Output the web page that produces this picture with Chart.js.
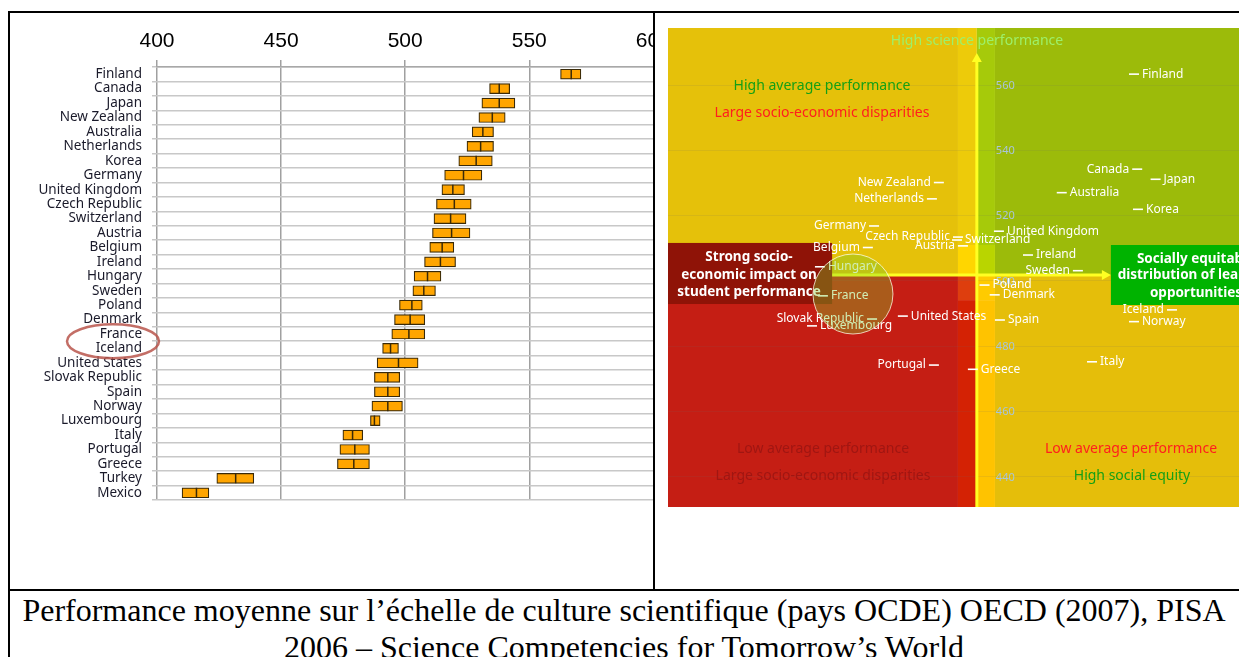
<!DOCTYPE html>
<html>
<head>
<meta charset="utf-8">
<script src="https://cdn.jsdelivr.net/npm/chart.js@4.4.1/dist/chart.umd.min.js"></script>
<style>
  html, body { margin: 0; padding: 0; background: #fff; }
  body { width: 1239px; height: 657px; overflow: hidden; position: relative; }
  .rule { position: absolute; background: #000; }
  #leftCell { position: absolute; left: 10px; top: 12px; width: 643px; height: 577px; overflow: hidden; }
  #leftCell canvas { position: absolute; left: 0; top: 0; }
  #rightCell { position: absolute; left: 668px; top: 28px; width: 571px; height: 479px; }
  #caption { position: absolute; left: 9px; top: 592px; width: 1230px; text-align: center;
             font-family: "Liberation Serif", serif; font-size: 32px; line-height: 37px; color: #000; }
</style>
</head>
<body>
<div class="rule" style="left:9px; top:11px; width:1230px; height:2px;"></div>
<div class="rule" style="left:8px; top:11px; width:2px; height:646px;"></div>
<div class="rule" style="left:653px; top:11px; width:2px; height:579px;"></div>
<div class="rule" style="left:8px; top:589px; width:1231px; height:2px;"></div>

<div id="leftCell"><canvas id="bars" width="700" height="491"></canvas></div>
<div id="rightCell"><canvas id="quadrant" width="571" height="479"></canvas></div>

<div id="caption">Performance moyenne sur l’échelle de culture scientifique (pays OCDE) OECD (2007), PISA<br>2006 – Science Competencies for Tomorrow’s World</div>

<script>
// ---- gauche : score moyen en sciences et intervalle de confiance
const countries = ['Finland', 'Canada', 'Japan', 'New Zealand', 'Australia', 'Netherlands', 'Korea',
  'Germany', 'United Kingdom', 'Czech Republic', 'Switzerland', 'Austria', 'Belgium', 'Ireland',
  'Hungary', 'Sweden', 'Poland', 'Denmark', 'France', 'Iceland', 'United States', 'Slovak Republic',
  'Spain', 'Norway', 'Luxembourg', 'Italy', 'Portugal', 'Greece', 'Turkey', 'Mexico'];
const ciLow = [562.6, 534.0, 530.9, 529.7, 527.0, 524.9, 521.6, 515.9, 514.8, 512.6, 511.6, 511.0,
  509.9, 507.8, 503.6, 503.1, 497.7, 495.7, 494.6, 490.9, 488.7, 487.6, 487.6, 486.6, 486.0,
  474.9, 473.7, 472.7, 424.1, 410.1];
const meanScore = [566.9, 537.9, 537.9, 535.1, 531.3, 530.4, 528.6, 523.5, 519.2, 519.8, 518.3, 518.7,
  514.9, 514.2, 509.0, 507.5, 502.7, 502.0, 501.5, 494.1, 497.3, 493.0, 493.0, 493.0, 487.6,
  478.8, 479.7, 479.3, 431.7, 415.9];
const ciHigh = [570.8, 542.1, 544.2, 540.3, 535.6, 535.6, 535.1, 530.9, 523.9, 526.6, 524.5, 526.1,
  519.6, 520.3, 514.4, 512.2, 506.9, 507.9, 507.9, 497.3, 505.2, 497.8, 497.8, 498.9, 489.9,
  482.9, 485.6, 485.6, 439.0, 420.9];
const scoreTicks = [400, 450, 500, 550, 600];
const circled = ['France', 'Iceland'];

// ---- droite : équité (variance expliquée, %) vs performance
const equityCountries = ['Finland', 'Canada', 'Japan', 'Australia', 'Korea', 'New Zealand', 'Netherlands',
  'Germany', 'United Kingdom', 'Czech Republic', 'Switzerland', 'Austria', 'Belgium', 'Ireland',
  'Hungary', 'Sweden', 'Poland', 'Denmark', 'France', 'Iceland', 'United States', 'Slovak Republic',
  'Spain', 'Norway', 'Luxembourg', 'Italy', 'Portugal', 'Greece'];
const varianceExplained = [8.23, 8.1, 7.36, 11.14, 8.07, 16.09, 16.37,
  18.70, 13.67, 15.32, 15.36, 15.12, 18.95, 12.50,
  20.88, 10.49, 14.25, 13.84, 20.76, 6.70, 17.54, 18.78,
  13.63, 8.23, 21.20, 9.92, 16.29, 14.72];
const scienceScore = [563.2, 534.1, 531.0, 526.9, 521.8, 530.0, 525.0,
  516.7, 515.1, 513.3, 512.4, 510.6, 510.1, 507.8,
  504.2, 503.0, 498.6, 495.6, 495.3, 491.0, 489.1, 488.2,
  487.9, 487.4, 486.1, 475.1, 474.1, 472.8];
const labelSide = ['R', 'L', 'R', 'R', 'R', 'L', 'L',
  'L', 'R', 'L', 'R', 'L', 'L', 'R',
  'R', 'L', 'R', 'R', 'R', 'L', 'R', 'L',
  'R', 'R', 'R', 'R', 'L', 'R'];
const oecdVariance = 14.56;
const oecdScore = 501.7;

// ellipse rouge autour de France / Iceland
const ellipsePlugin = {
  id: 'ellipse',
  afterDraw(chart) {
    const ctx = chart.ctx, y = chart.scales.y;
    const cy = (y.getPixelForValue(countries.indexOf(circled[0])) + y.getPixelForValue(countries.indexOf(circled[1]))) / 2;
    ctx.save();
    ctx.strokeStyle = 'rgba(185,85,75,0.85)';
    ctx.lineWidth = 2.5;
    ctx.beginPath();
    ctx.ellipse(chart.chartArea.left - 44, cy, 46, 17, 0, 0, Math.PI * 2);
    ctx.stroke();
    ctx.restore();
  }
};

new Chart(document.getElementById('bars'), {
  type: 'bar',
  data: {
    labels: countries,
    datasets: [{
      type: 'bar',
      data: countries.map((c, i) => [ciLow[i], ciHigh[i]]),
      backgroundColor: '#FFA500',
      borderColor: '#3a2a08',
      borderWidth: 1.2,
      borderSkipped: false,
      barThickness: 10,
      order: 2
    }, {
      type: 'line',
      data: countries.map((c, i) => ({ x: meanScore[i], y: c })),
      showLine: false,
      pointStyle: 'line',
      pointRadius: 5,
      pointRotation: 90,
      pointBorderColor: '#3a2a08',
      pointBorderWidth: 1.5,
      order: 1
    }]
  },
  options: {
    indexAxis: 'y',
    responsive: false,
    animation: false,
    layout: { padding: { left: 0, right: 7, top: 0, bottom: 3 }, autoPadding: false },
    plugins: { legend: { display: false }, tooltip: { enabled: false } },
    scales: {
      x: {
        position: 'top',
        min: 400, max: 620,
        afterBuildTicks: s => { s.ticks = scoreTicks.map(v => ({ value: v })); },
        ticks: { padding: 6, color: '#000', font: { family: 'Liberation Sans', size: 21 } },
        grid: { color: '#a0a0a0', lineWidth: 1.5, tickLength: 7 },
        border: { color: '#a8a8a8', width: 1.5 },
        afterFit: s => { s.height = 55; }
      },
      y: {
        ticks: { padding: 10, color: '#1a1a2a', autoSkip: false, font: { family: 'Noto Sans', size: 13.5 } },
        grid: { color: '#c8c8c8', lineWidth: 1.5, tickLength: 5 },
        border: { display: false },
        afterFit: s => { s.width = 147; s.paddingTop = 0; s.paddingBottom = 0; }
      }
    }
  },
  plugins: [ellipsePlugin]
});

// fonds de quadrants (unités des axes)
const zones = [
  { x: [27, 15.32], y: [oecdScore, 577.4], color: '#E5C10A' },
  { x: [13.83, 4], y: [oecdScore, 577.4], color: '#9CBB0A' },
  { x: [27, 15.32], y: [430.6, oecdScore], color: '#C51E14' },
  { x: [13.83, 4], y: [430.6, oecdScore], color: '#E5BE0A' },
  { x: [15.32, oecdVariance], y: [510.87, 577.4], color: '#EDCB0A' },
  { x: [15.32, oecdVariance], y: [oecdScore, 510.87], color: '#FFD600' },
  { x: [oecdVariance, 13.83], y: [510.87, 577.4], color: '#A6CA0A' },
  { x: [oecdVariance, 13.83], y: [oecdScore, 510.87], color: '#B9D500' },
  { x: [15.32, oecdVariance], y: [494.0, oecdScore], color: '#DE3E0E' },
  { x: [15.32, oecdVariance], y: [430.6, 494.0], color: '#D42204' },
  { x: [oecdVariance, 13.83], y: [494.0, oecdScore], color: '#FFCB00' },
  { x: [oecdVariance, 13.83], y: [430.6, 494.0], color: '#FFC300' }
];
const boxes = [
  { x: [27, 20.39], y: [492.8, 511.5], color: '#8F1307' },
  { x: [9.16, 4], y: [492.5, 510.87], color: '#00B300' }
];
const notes = [
  { text: 'High science performance', x: 309, y: 13, color: '#9DF06A' },
  { text: 'High average performance', x: 154, y: 58, color: '#14A014' },
  { text: 'Large socio-economic disparities', x: 154, y: 85, color: '#FF1E1E' },
  { text: 'Low average performance', x: 155, y: 421, color: '#A01612' },
  { text: 'Large socio-economic disparities', x: 155, y: 448, color: '#A01612' },
  { text: 'Low average performance', x: 463, y: 421, color: '#FF1E1E' },
  { text: 'High social equity', x: 464, y: 448, color: '#14A014' },
  { text: 'Strong socio-', x: 81, y: 229, color: '#fff', bold: true },
  { text: 'economic impact on', x: 81, y: 247, color: '#fff', bold: true },
  { text: 'student performance', x: 81, y: 264, color: '#fff', bold: true },
  { text: 'Socially equitable', x: 528, y: 231, color: '#fff', bold: true },
  { text: 'distribution of learning', x: 528, y: 247, color: '#fff', bold: true },
  { text: 'opportunities', x: 528, y: 265, color: '#fff', bold: true }
];

function rect(ctx, x, y, z) {
  const x0 = x.getPixelForValue(z.x[0]), x1 = x.getPixelForValue(z.x[1]);
  const y0 = y.getPixelForValue(z.y[0]), y1 = y.getPixelForValue(z.y[1]);
  ctx.fillStyle = z.color;
  ctx.fillRect(Math.min(x0, x1), Math.min(y0, y1), Math.abs(x1 - x0), Math.abs(y1 - y0));
}

const quadrantPlugin = {
  id: 'quadrantDecor',
  beforeDraw(chart) {
    const { ctx, scales: { x, y }, chartArea: a } = chart;
    ctx.save();
    zones.forEach(z => rect(ctx, x, y, z));
    ctx.strokeStyle = 'rgba(110,110,110,0.12)';
    ctx.lineWidth = 1;
    y.ticks.filter(t => t.value % 20 === 0).forEach(t => {
      const py = Math.round(y.getPixelForValue(t.value)) + 0.5;
      ctx.beginPath(); ctx.moveTo(a.left, py); ctx.lineTo(a.right, py); ctx.stroke();
    });
    ctx.restore();
  },
  beforeDatasetsDraw(chart) {
    const { ctx, scales: { x, y }, chartArea: a } = chart;
    const ax = x.getPixelForValue(oecdVariance), ay = y.getPixelForValue(oecdScore);
    const tipX = x.getPixelForValue(9.16), tipY = y.getPixelForValue(569.7);
    ctx.save();
    ctx.strokeStyle = '#FFFF22'; ctx.fillStyle = '#FFFF22'; ctx.lineWidth = 3;
    ctx.beginPath(); ctx.moveTo(a.left, ay); ctx.lineTo(tipX - 6, ay); ctx.stroke();
    ctx.beginPath(); ctx.moveTo(tipX, ay); ctx.lineTo(tipX - 9, ay - 5); ctx.lineTo(tipX - 9, ay + 5); ctx.fill();
    ctx.beginPath(); ctx.moveTo(ax, a.bottom); ctx.lineTo(ax, tipY + 6); ctx.stroke();
    ctx.beginPath(); ctx.moveTo(ax, tipY); ctx.lineTo(ax - 5, tipY + 9); ctx.lineTo(ax + 5, tipY + 9); ctx.fill();
    boxes.forEach(b => rect(ctx, x, y, b));
    ctx.textAlign = 'center'; ctx.textBaseline = 'middle';
    notes.forEach(n => {
      ctx.font = (n.bold ? 'bold 13.5px' : '14px') + ' "Noto Sans"';
      ctx.fillStyle = n.color;
      ctx.fillText(n.text, a.left + n.x, a.top + n.y);
    });
    ctx.font = '11px "Noto Sans"'; ctx.fillStyle = '#A9C6DA'; ctx.textAlign = 'left';
    y.ticks.filter(t => t.value % 20 === 0).forEach(t => {
      ctx.fillText(String(t.value), ax + 19, y.getPixelForValue(t.value) + 1);
    });
    ctx.restore();
  },
  afterDatasetsDraw(chart) {
    const { ctx, scales: { x, y } } = chart;
    const pts = chart.getDatasetMeta(0).data;
    ctx.save();
    ctx.font = '12px "Noto Sans"'; ctx.fillStyle = '#fff'; ctx.textBaseline = 'middle';
    pts.forEach((p, i) => {
      const right = labelSide[i] === 'R';
      ctx.textAlign = right ? 'left' : 'right';
      ctx.fillText(equityCountries[i], p.x + (right ? 8 : -8), p.y);
    });
    // cercle de mise en évidence Hungary / France
    ctx.beginPath();
    ctx.arc(x.getPixelForValue(19.55), y.getPixelForValue(495.86), 40, 0, Math.PI * 2);
    ctx.fillStyle = 'rgba(120,205,40,0.35)';
    ctx.fill();
    ctx.strokeStyle = 'rgba(255,255,235,0.75)';
    ctx.lineWidth = 1;
    ctx.stroke();
    ctx.restore();
  }
};

new Chart(document.getElementById('quadrant'), {
  type: 'scatter',
  data: {
    datasets: [{
      data: equityCountries.map((c, i) => ({ x: varianceExplained[i], y: scienceScore[i] })),
      pointStyle: 'line',
      pointRadius: 5,
      pointBorderColor: '#fff',
      pointBackgroundColor: '#fff',
      pointBorderWidth: 1.6
    }]
  },
  options: {
    responsive: false,
    animation: false,
    layout: { padding: 0, autoPadding: false },
    plugins: { legend: { display: false }, tooltip: { enabled: false } },
    scales: {
      x: { type: 'linear', min: 4, max: 27, reverse: true, display: false },
      y: { type: 'linear', min: 430.63, max: 577.33, display: false, ticks: { stepSize: 20, includeBounds: false } }
    }
  },
  plugins: [quadrantPlugin]
});
</script>
</body>
</html>
